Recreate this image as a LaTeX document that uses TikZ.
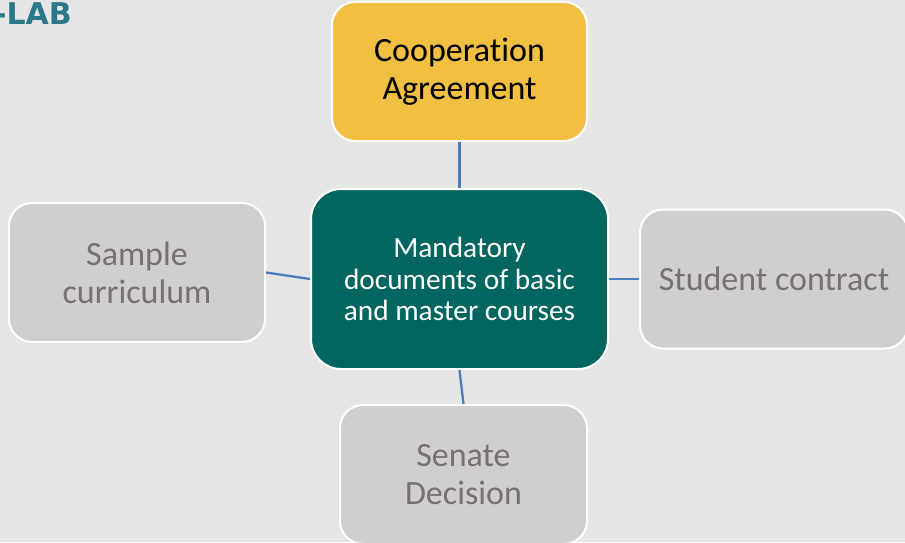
\documentclass[tikz,border=0pt]{standalone}
\usepackage{fontspec}
\setmainfont[Ligatures=NoCommon]{Carlito}
\newfontfamily\labfont{DejaVu Sans}
\usepackage{tikz}
\usetikzlibrary{positioning}
\definecolor{bgGrey}{HTML}{E7E6E6}
\definecolor{boxGrey}{HTML}{D0CECE}
\definecolor{txtGrey}{HTML}{767171}
\definecolor{agreeYellow}{HTML}{F1BF41}
\definecolor{mainTeal}{HTML}{00665F}
\definecolor{linkBlue}{HTML}{4A7EBB}
\definecolor{labBlue}{HTML}{2B788B}
\tikzset{d/.style={line width=1.7pt, draw=linkBlue}}

\begin{document}
\begin{tikzpicture}[x=0.75pt,y=-0.75pt,
sidenode/.style={rectangle, rounded corners=17.4pt, draw=white, line width=1.5pt, fill=boxGrey, text=txtGrey, align=center, minimum height=104.25pt, font=\fontsize{25.5}{28.5}\selectfont},
mainnode/.style={rectangle, rounded corners=22.5pt, draw=white, line width=1.5pt, fill=mainTeal, text=white, align=center, minimum width=222.75pt, minimum height=135pt, font=\fontsize{22}{23.6}\selectfont},
]
%Background
\fill[bgGrey] (0,0) rectangle (905,542);
\useasboundingbox (0,0) rectangle (905,542);

%Nodes
\node[mainnode]    (mandatory)  at (459.5,279)                          {Mandatory\\documents of basic\\and master courses};
\node[sidenode, fill=agreeYellow, text=black, minimum width=191.25pt] (agreement) [above=34.5pt of mandatory] {Cooperation\\Agreement};
\node[sidenode, minimum width=192pt]    (curriculum) [left=33pt of mandatory, yshift=4.9pt]  {Sample\\curriculum};
\node[sidenode, minimum width=201pt]    (contract)   [right=22.5pt of mandatory]             {Student contract};
\node[sidenode, minimum width=185.25pt] (senate)     [below=25.5pt of mandatory, xshift=3pt] {Senate\\Decision};
\node[text=labBlue, font=\labfont\bfseries\fontsize{22.5}{26}\selectfont, anchor=base east, inner sep=0pt] (lab) at (72,24.5) {-LAB};

%Lines
\draw[d] (agreement.south) -- (mandatory.north);
\draw[d] (curriculum.east) -- (mandatory.west);
\draw[d] (mandatory.east) -- (contract.west);
\draw[d] (mandatory.south) -- (senate.north);
\end{tikzpicture}
\end{document}
